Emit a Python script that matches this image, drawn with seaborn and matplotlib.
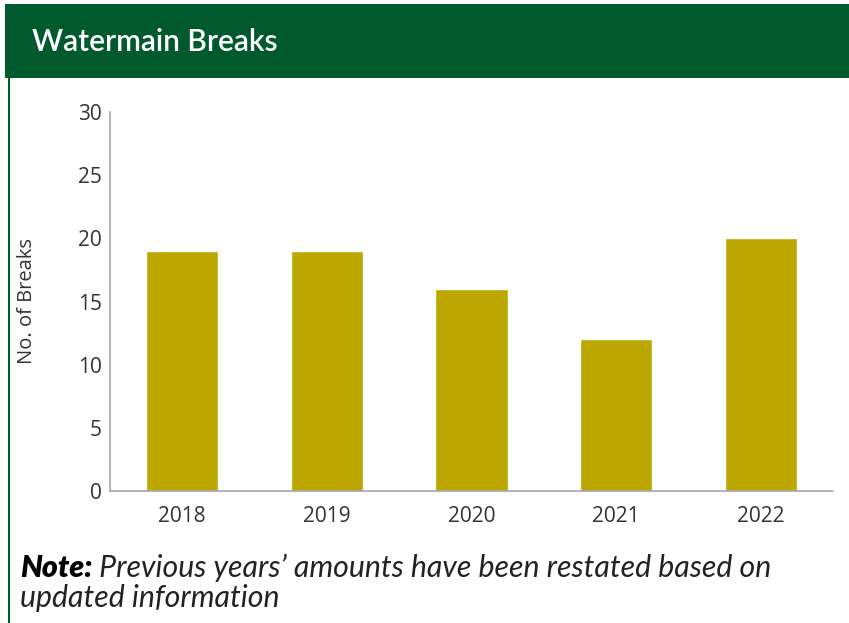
import matplotlib
matplotlib.use("Agg")
import matplotlib.pyplot as plt
import seaborn as sns
import pandas as pd
from matplotlib.patches import Rectangle
from matplotlib.lines import Line2D

# Watermain breaks per year
years = ["2018", "2019", "2020", "2021", "2022"]
breaks = [19, 19, 16, 12, 20]
y_ticks = [0, 5, 10, 15, 20, 25, 30]

title_text = "Watermain Breaks"
y_label = "No. of Breaks"
note_bold = "Note:"
note_body = " Previous years\u2019 amounts have been restated based on"
note_line2 = "updated information"

BAR_COLOR = "#BBA700"
HEADER_GREEN = "#005A2E"
AXIS_GRAY = "#A6A6A6"
TEXT_GRAY = "#333333"

sns.set_theme(style="white")
plt.rcParams["font.family"] = ["Open Sans", "DejaVu Sans"]

W, H = 849, 623
fig = plt.figure(figsize=(W / 100, H / 100), dpi=100)
fig.patch.set_facecolor("white")

# Header band and panel border
fig.add_artist(Rectangle((5 / W, 1 - 78 / H), 1 - 5 / W, 74 / H,
                         transform=fig.transFigure, facecolor=HEADER_GREEN,
                         edgecolor="none", zorder=0))
fig.add_artist(Line2D([8.5 / W, 8.5 / W], [0, 1 - 78 / H],
                      transform=fig.transFigure, color=HEADER_GREEN, lw=1.5))
fig.text(32 / W, 1 - 42 / H, title_text, color="white", fontsize=21.5,
         fontfamily=["Lato", "DejaVu Sans"], fontweight="semibold",
         va="center", ha="left")

# Chart area
ax_left, ax_right, ax_top, ax_bottom = 110, 833, 112, 491
ax = fig.add_axes([ax_left / W, 1 - ax_bottom / H,
                   (ax_right - ax_left) / W, (ax_bottom - ax_top) / H])
df = pd.DataFrame({"year": years, "breaks": breaks})
sns.barplot(data=df, x="year", y="breaks", color=BAR_COLOR, saturation=1,
            width=0.5, ax=ax)
ax.set_xlim(-0.5, len(years) - 0.5)
ax.set_ylim(0, 30)
ax.set_yticks(y_ticks)
ax.set_yticklabels([str(t) for t in y_ticks])
ax.set_xlabel("")
ax.set_ylabel(y_label, fontsize=14.5, color=TEXT_GRAY, fontfamily="Open Sans")
ax.yaxis.set_label_coords((37 - ax_left) / (ax_right - ax_left), 0.5)
ax.tick_params(axis="both", length=0, labelsize=15, labelcolor=TEXT_GRAY)
ax.tick_params(axis="y", pad=6)
ax.tick_params(axis="x", pad=11)
for lbl in ax.get_xticklabels() + ax.get_yticklabels():
    lbl.set_fontfamily("Open Sans")
for side in ["top", "right"]:
    ax.spines[side].set_visible(False)
for side in ["left", "bottom"]:
    ax.spines[side].set_color(AXIS_GRAY)
    ax.spines[side].set_linewidth(1.2)

# Footnote
note_fam = ["Lato", "DejaVu Sans"]
note_size = 21.8
t1 = fig.text(20 / W, 1 - 568 / H, note_bold, fontsize=note_size, fontweight="heavy",
              fontstyle="italic", color="black", fontfamily=note_fam,
              va="center", ha="left")
fig.canvas.draw()
bb = t1.get_window_extent()
fig.text(bb.x1 / W, 1 - 568 / H, note_body, fontsize=note_size, fontstyle="italic",
         color="#222222", fontfamily=note_fam, va="center", ha="left")
fig.text(20 / W, 1 - 598 / H, note_line2, fontsize=note_size, fontstyle="italic",
         color="#222222", fontfamily=note_fam, va="center", ha="left")

fig.savefig("out.png", dpi=100, facecolor="white")
